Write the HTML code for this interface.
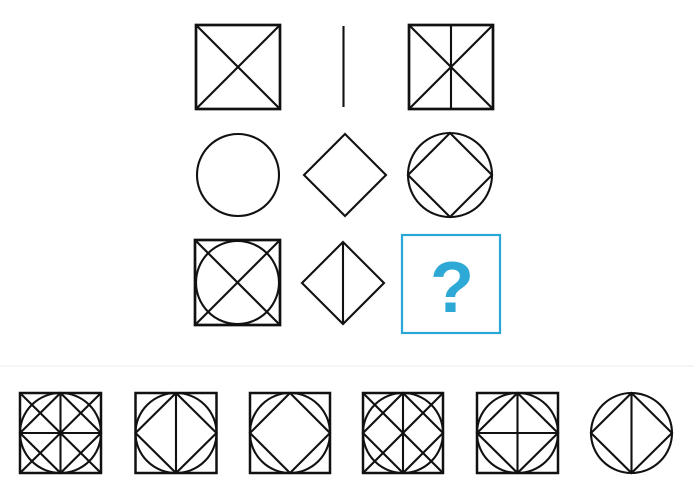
<!DOCTYPE html>
<html><head><meta charset="utf-8"><style>
html,body{margin:0;padding:0;background:#fff;}
svg{display:block;}
</style></head><body>
<svg width="694" height="497" viewBox="0 0 694 497" xmlns="http://www.w3.org/2000/svg" fill="none" stroke="#111" stroke-width="2.1">
  <g>
    <rect x="196" y="25" width="84" height="84" stroke-width="2.7"/>
    <line x1="196" y1="25" x2="280" y2="109"/><line x1="280" y1="25" x2="196" y2="109"/>
  </g>
  <g>
    <line x1="343.5" y1="26" x2="343.5" y2="107"/>
  </g>
  <g>
    <rect x="409" y="25" width="84" height="84" stroke-width="2.7"/>
    <line x1="409" y1="25" x2="493" y2="109"/><line x1="493" y1="25" x2="409" y2="109"/>
    <line x1="451" y1="25" x2="451" y2="109"/>
  </g>
  <g>
    <circle cx="238" cy="175" r="41"/>
  </g>
  <g>
    <polygon points="345,134 386,175 345,216 304,175"/>
  </g>
  <g>
    <circle cx="450" cy="175" r="42"/>
    <polygon points="450,133 492,175 450,217 408,175"/>
  </g>
  <g>
    <rect x="195" y="240" width="85" height="85" stroke-width="2.7"/>
    <circle cx="237.5" cy="282.5" r="41.5"/>
    <line x1="195" y1="240" x2="280" y2="325"/><line x1="280" y1="240" x2="195" y2="325"/>
  </g>
  <g>
    <polygon points="343,242 384,283 343,324 302,283"/>
    <line x1="343" y1="242" x2="343" y2="324"/>
  </g>
  <g>
    <rect x="402" y="235" width="98" height="98" stroke="#29a8d8" stroke-width="2.2"/>
    <text x="452" y="312" text-anchor="middle" font-family="Liberation Sans, sans-serif" font-weight="bold" font-size="72" fill="#2ea9d6" stroke="none">?</text>
  </g>
  <line x1="0" y1="366" x2="694" y2="366" stroke="#eeeeee" stroke-width="1"/>
  <g>
    <rect x="20" y="393" width="81" height="80" stroke-width="2.5"/>
    <ellipse cx="60.5" cy="433" rx="40.5" ry="40"/>
    <line x1="20" y1="393" x2="101" y2="473"/><line x1="101" y1="393" x2="20" y2="473"/>
    <line x1="60.5" y1="393" x2="60.5" y2="473"/><line x1="20" y1="433" x2="101" y2="433"/>
    <polygon points="60.5,393 101,433 60.5,473 20,433"/>
  </g>
  <g>
    <rect x="135.5" y="393" width="81" height="80" stroke-width="2.5"/>
    <ellipse cx="176" cy="433" rx="40.5" ry="40"/>
    <polygon points="176,393 216.5,433 176,473 135.5,433"/>
    <line x1="176" y1="393" x2="176" y2="473"/>
  </g>
  <g>
    <rect x="250" y="393" width="80" height="80" stroke-width="2.5"/>
    <circle cx="290" cy="433" r="40"/>
    <polygon points="290,393 330,433 290,473 250,433"/>
  </g>
  <g>
    <rect x="363" y="393" width="80" height="80" stroke-width="2.5"/>
    <circle cx="403" cy="433" r="40"/>
    <polygon points="403,393 443,433 403,473 363,433"/>
    <line x1="403" y1="393" x2="403" y2="473"/>
    <line x1="363" y1="393" x2="443" y2="473"/><line x1="443" y1="393" x2="363" y2="473"/>
  </g>
  <g>
    <rect x="477" y="393" width="81" height="80" stroke-width="2.5"/>
    <ellipse cx="517.5" cy="433" rx="40.5" ry="40"/>
    <polygon points="517.5,393 558,433 517.5,473 477,433"/>
    <line x1="517.5" y1="393" x2="517.5" y2="473"/><line x1="477" y1="433" x2="558" y2="433"/>
  </g>
  <g>
    <ellipse cx="631.5" cy="433" rx="40.5" ry="40"/>
    <polygon points="631.5,393 672,433 631.5,473 591,433"/>
    <line x1="631.5" y1="393" x2="631.5" y2="473"/>
  </g>
</svg>
</body></html>
